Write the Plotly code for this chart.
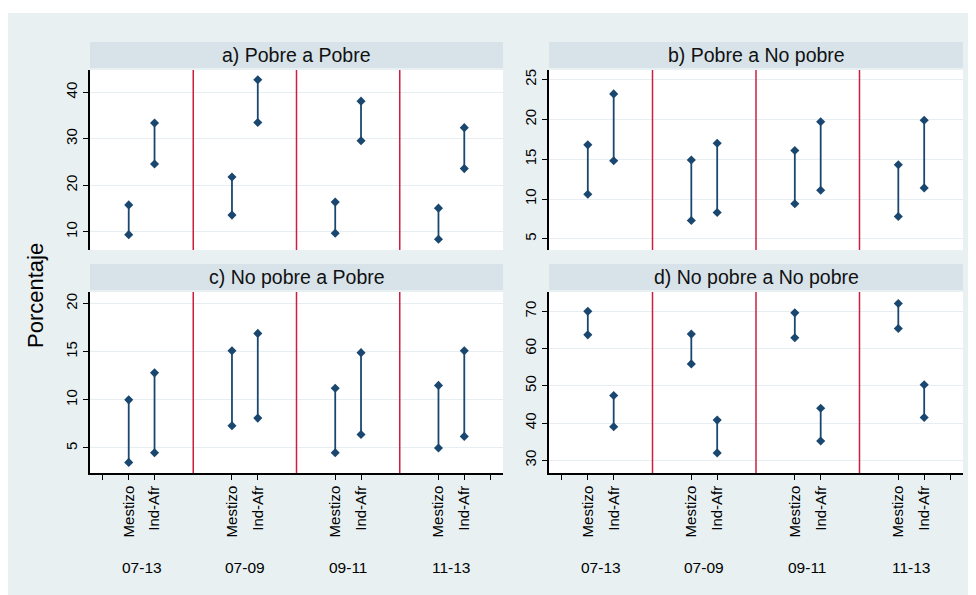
import plotly.graph_objects as go

periods = ["07-13", "07-09", "09-11", "11-13"]
groups = ["Mestizo", "Ind-Afr"]
titles = ["a) Pobre a Pobre", "b) Pobre a No pobre", "c) No pobre a Pobre", "d) No pobre a No pobre"]

# order: (07-13 Mestizo, 07-13 Ind-Afr, 07-09 Mestizo, 07-09 Ind-Afr, ...)
a_lo = [9.4, 24.6, 13.6, 33.5, 9.7, 29.6, 8.4, 23.6]
a_hi = [15.8, 33.4, 21.8, 42.7, 16.4, 38.1, 15.1, 32.4]
b_lo = [10.6, 14.8, 7.3, 8.3, 9.4, 11.1, 7.8, 11.4]
b_hi = [16.8, 23.2, 14.9, 17.0, 16.1, 19.7, 14.3, 19.9]
c_lo = [3.5, 4.5, 7.3, 8.1, 4.5, 6.4, 5.0, 6.2]
c_hi = [10.0, 12.8, 15.1, 16.9, 11.2, 14.9, 11.5, 15.1]
d_lo = [63.7, 39.0, 55.9, 32.0, 62.9, 35.2, 65.4, 41.5]
d_hi = [70.0, 47.4, 63.9, 40.8, 69.6, 44.0, 72.1, 50.3]

y_ticks = [[10, 20, 30, 40], [5, 10, 15, 20, 25], [5, 10, 15, 20], [30, 40, 50, 60, 70]]
y_ranges = [[6.1, 44.8], [3.6, 26.2], [2.4, 21.2], [26.6, 75.2]]

W, H = 976, 595
OFF = 8  # page body margin
NAVY = "#1A476F"
RED = "#CC1F40"
BG = "#E8F0F2"
STRIP = "#D7E3E9"
GRID = "#E6EEF1"
FONT = "Liberation Sans, Arial, sans-serif"


def px(v):
    return (v - OFF) / W


def py(v):
    return (H - (v - OFF)) / H


# positions on x-axis for each (period, group)
xpos = []
for p in range(len(periods)):
    for g in range(len(groups)):
        xpos.append(4 * p + g + 1)
sep_x = [4 * p + 3.5 for p in range(len(periods) - 1)]
group_centers = [4 * p + 1.5 for p in range(len(periods))]

# panel boxes in screen pixels: (x0, x1), (y_top, y_bottom)
col_x = [(90, 503), (549, 963)]
row_y = [(70, 250), (292, 473)]
strip_h = 26

fig = go.Figure()
layout = dict(
    width=W, height=H, autosize=False,
    margin=dict(l=0, r=0, t=0, b=0),
    paper_bgcolor=BG, plot_bgcolor="white",
    showlegend=False,
    font=dict(family=FONT, color="black"),
)
shapes = []
annotations = []

# white strip at top
shapes.append(dict(type="rect", xref="paper", yref="paper", x0=0, x1=1, y0=py(13), y1=1,
                   fillcolor="white", line=dict(width=0), layer="below"))

data_lo = [a_lo, b_lo, c_lo, d_lo]
data_hi = [a_hi, b_hi, c_hi, d_hi]

for i in range(4):
    r, c = divmod(i, 2)
    n = i + 1
    xa = "x" if n == 1 else f"x{n}"
    ya = "y" if n == 1 else f"y{n}"
    x0p, x1p = col_x[c]
    ytop, ybot = row_y[r]
    xs, ys = [], []
    for k, xv in enumerate(xpos):
        xs += [xv, xv, None]
        ys += [data_lo[i][k], data_hi[i][k], None]
    fig.add_trace(go.Scatter(
        x=xs, y=ys, mode="lines+markers", xaxis=xa, yaxis=ya,
        line=dict(color=NAVY, width=1.8),
        marker=dict(symbol="diamond", size=7, color=NAVY),
        hoverinfo="skip",
    ))
    bottom = r == 1
    xkey = "xaxis" if n == 1 else f"xaxis{n}"
    ykey = "yaxis" if n == 1 else f"yaxis{n}"
    tickvals = [0] + xpos + [15]
    ticktext = [""] + groups * len(periods) + [""]
    layout[xkey] = dict(
        domain=[px(x0p), px(x1p)], anchor=ya, range=[-0.5, 15.5],
        showgrid=False, zeroline=False, fixedrange=True,
        showline=bottom, linecolor="black", linewidth=1.5,
        ticks="outside" if bottom else "", ticklen=5, tickwidth=1.2, tickcolor="black",
        tickvals=tickvals, ticktext=ticktext if bottom else [""] * len(tickvals),
        showticklabels=bottom, tickangle=-90,
        tickfont=dict(size=15, family=FONT, color="black"),
    )
    layout[ykey] = dict(
        domain=[py(ybot), py(ytop)], anchor=xa, range=y_ranges[i],
        showgrid=True, gridcolor=GRID, gridwidth=1.2, zeroline=False, fixedrange=True,
        showline=True, linecolor="black", linewidth=1.5,
        ticks="outside", ticklen=5, tickwidth=1.2, tickcolor="black",
        tickvals=y_ticks[i], tickangle=-90,
        tickfont=dict(size=15, family=FONT, color="black"),
    )
    # red separators
    for sx in sep_x:
        shapes.append(dict(type="line", xref=xa, yref=f"{ya} domain", x0=sx, x1=sx, y0=0, y1=1,
                           line=dict(color=RED, width=1.5)))
    # strip
    s_top = ytop - 2 - strip_h
    s_bot = ytop - 2
    shapes.append(dict(type="rect", xref="paper", yref="paper",
                       x0=px(x0p), x1=px(x1p), y0=py(s_bot), y1=py(s_top),
                       fillcolor=STRIP, line=dict(width=0), layer="below"))
    annotations.append(dict(text=titles[i], xref="paper", yref="paper",
                            x=px((x0p + x1p) / 2), y=py((s_top + s_bot) / 2),
                            xanchor="center", yanchor="middle", showarrow=False,
                            font=dict(size=19.5, family=FONT, color="#111111")))
    if bottom:
        for gc, lab in zip(group_centers, periods):
            annotations.append(dict(text=lab, xref=xa, yref="paper", x=gc, y=py(567),
                                    xanchor="center", yanchor="middle", showarrow=False,
                                    font=dict(size=15.5, family=FONT, color="black")))

annotations.append(dict(text="Porcentaje", xref="paper", yref="paper", x=px(36), y=py(296),
                        xanchor="center", yanchor="middle", showarrow=False, textangle=-90,
                        font=dict(size=22, family=FONT, color="black")))

layout["shapes"] = shapes
layout["annotations"] = annotations
fig.update_layout(**layout)
fig.write_html("out.html")
